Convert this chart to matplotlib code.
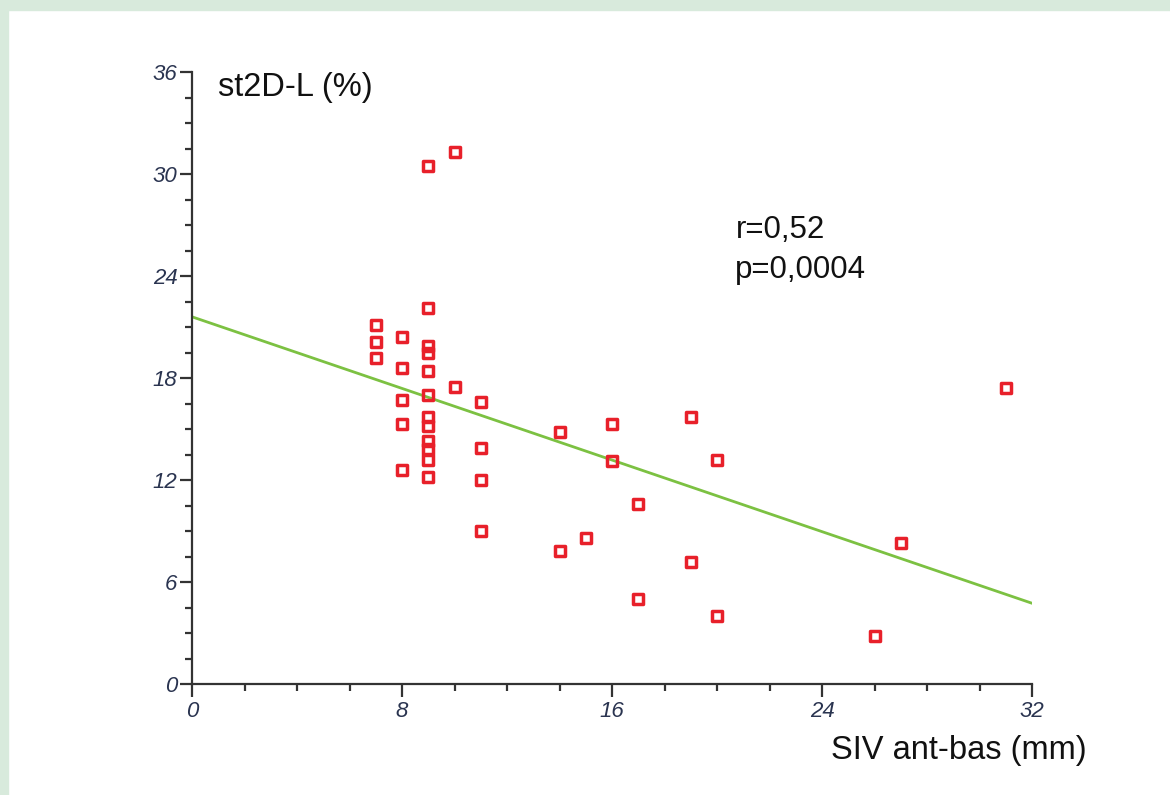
import matplotlib
matplotlib.use("Agg")
import matplotlib.pyplot as plt
from matplotlib.markers import MarkerStyle
from matplotlib.patches import Rectangle
from matplotlib.ticker import MultipleLocator

plt.rcParams['font.family'] = ['Liberation Sans', 'DejaVu Sans']

# Septal thickness (mm) vs longitudinal 2D strain (%)
siv_mm = [10, 9, 9, 7, 7, 7, 8, 8, 8, 8, 8, 9, 9, 9, 9, 9, 9, 9, 9, 9, 9,
          10, 11, 11, 11, 11, 14, 16, 19, 16, 20, 17, 15, 14, 19, 17, 20,
          31, 27, 26]
strain_pct = [31.3, 30.5, 22.1, 21.1, 20.1, 19.2, 20.4, 18.6, 16.7, 15.3, 12.6,
              19.9, 19.5, 18.4, 17.0, 15.7, 15.2, 14.3, 13.8, 13.2, 12.2,
              17.5, 16.6, 13.9, 12.0, 9.0, 14.8, 15.3, 15.7, 13.1, 13.2, 10.6,
              8.6, 7.8, 7.2, 5.0, 4.0, 17.4, 8.3, 2.8]

# Regression line end points
fit_x = [0, 32]
fit_y = [21.6, 4.75]

stats_lines = ["r=0,52", "p=0,0004"]
y_title = "st2D-L (%)"
x_title = "SIV ant-bas (mm)"

W, H = 1170, 795
fig = plt.figure(figsize=(W / 100, H / 100), dpi=100, facecolor='white')

# light green frame strips (top and left)
frame_col = '#d8eadc'
fig.patches.append(Rectangle((0, 0), 8 / W, 1, transform=fig.transFigure,
                             color=frame_col, zorder=0))
fig.patches.append(Rectangle((0, 1 - 10 / H), 1, 10 / H, transform=fig.transFigure,
                             color=frame_col, zorder=0))

ax = fig.add_axes([192 / W, 1 - 684 / H, 840 / W, 612 / H])
ax.set_xlim(0, 32)
ax.set_ylim(0, 36)

ax.plot(fit_x, fit_y, color='#7cc142', lw=2.0, zorder=2)

ax.plot(siv_mm, strain_pct, linestyle='none',
        marker=MarkerStyle('s', joinstyle='round'), markersize=6.5,
        markerfacecolor='none', markeredgecolor='#e8202a',
        markeredgewidth=2.5, zorder=3)

for side in ('top', 'right'):
    ax.spines[side].set_visible(False)
for side in ('left', 'bottom'):
    ax.spines[side].set_linewidth(1.6)
    ax.spines[side].set_color('#333333')

ax.xaxis.set_major_locator(MultipleLocator(8))
ax.xaxis.set_minor_locator(MultipleLocator(2))
ax.yaxis.set_major_locator(MultipleLocator(6))
ax.yaxis.set_minor_locator(MultipleLocator(1.5))

ax.tick_params(which='major', direction='out', length=9, width=1.6,
               color='#333333', labelsize=16, labelcolor='#2a3450')
ax.tick_params(which='minor', direction='out', length=5, width=1.6,
               color='#333333')
ax.tick_params(axis='y', which='major', pad=1.5)
ax.tick_params(axis='x', which='major', pad=3)
for lab in ax.get_xticklabels() + ax.get_yticklabels():
    lab.set_fontstyle('italic')

ax.text(1.0, 35.06, y_title, fontsize=23.5, color='#111111',
        ha='left', va='center', clip_on=False)
ax.text(20.7, 26.7, stats_lines[0], fontsize=22.5, color='#111111',
        ha='left', va='center')
ax.text(20.7, 24.35, stats_lines[1], fontsize=22.5, color='#111111',
        ha='left', va='center')

fig.text(1087 / W, 1 - 750 / H, x_title, fontsize=23.5, color='#111111',
         ha='right', va='center')

fig.savefig('out.png', dpi=100, facecolor='white')
